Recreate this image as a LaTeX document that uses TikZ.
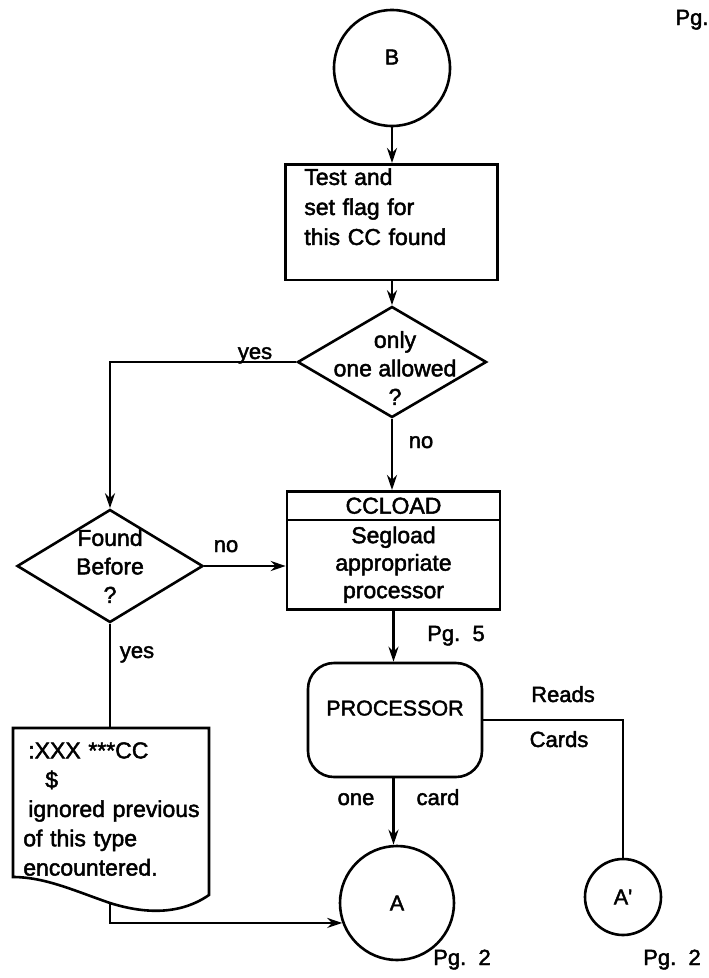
\documentclass[tikz,border=0pt]{standalone}
\usepackage{fontspec}
\setmainfont{Liberation Sans}[FakeBold=2]
\usetikzlibrary{positioning,arrows.meta,shapes.geometric,shapes.multipart}

\begin{document}
\begin{tikzpicture}[x=1pt, y=-1pt, line width=2.6pt,
  every node/.style={font=\fontsize{23}{30}\selectfont},
  term/.style={draw, circle, inner sep=0, font=\fontsize{21.5}{25}\selectfont},
  box/.style={draw, minimum width=212pt, minimum height=115pt, inner sep=4pt},
  decide/.style={draw, diamond, inner sep=0},
  ask/.style={align=center, inner sep=0, font=\fontsize{23}{28.5}\selectfont},
  lab/.style={anchor=base, inner sep=0, font=\fontsize{22}{26}\selectfont},
  arr/.style={-{Stealth[length=15pt, width=10pt]}}]
\useasboundingbox (0,0) rectangle (709,978);

\node[term, minimum size=116pt] (b) at (392,68) {B\rule[-22pt]{0pt}{0pt}};
\node[box, anchor=north west, text width=174pt, inner xsep=19pt, align=left] (test) at (284,163)
  {Test and\\set flag for\\this CC found\rule[-31pt]{0pt}{0pt}};
\node[decide, minimum width=189pt, minimum height=111pt] (once) at (392,362) {};
\node[ask] (once-t) at (395,368) {only\\one allowed\\?};
\node[decide, minimum width=186pt, minimum height=113pt] (found) at (110,566) {};
\node[ask] (found-t) at (110,566) {Found\\Before\\?};
\node[draw, rectangle split, rectangle split parts=2, text width=200pt, inner xsep=6.5pt,
      inner ysep=5pt, align=center, anchor=north, font=\fontsize{23}{27.5}\selectfont]
  (ccload) at (393.5,490) {CCLOAD\nodepart{two}Segload\\appropriate\\processor};
\node[draw, rounded corners=26pt, minimum width=174pt, minimum height=114pt,
      font=\fontsize{21.5}{25}\selectfont] (processor) at (395,720) {PROCESSOR\rule[-24pt]{0pt}{0pt}};
\node[term, minimum size=114pt] (a) at (397,903) {A};
\node[term, minimum size=76pt] (a2) at (623,897) {A\textquotesingle};

\draw (13,728) -- (209,728) -- (209,895) .. controls (180,915) and (145,914) .. (110,903)
  .. controls (75,891) and (45,877) .. (13,877) -- cycle;
\node[anchor=north west, text width=178pt, inner xsep=9pt, inner ysep=13pt, align=left,
      font=\fontsize{23}{29.3}\selectfont] (doc) at (13,728)
  {\hspace*{5pt}:XXX ***CC\\\hspace*{22pt}\$\\\hspace*{5pt}ignored previous\\of this type\\encountered.};
\coordinate (doc-b) at (110,903);

\draw[arr] (b.south) -- (b.south |- test.north);
\draw[arr] (once.north |- test.south) -- (once.north);
\draw[arr] (once.west) -| (found.north);
\draw[arr] (once.south) -- (once.south |- ccload.north);
\draw[arr] (found.east) -- (found.east -| ccload.west);
\draw[arr] (ccload.south) -- (ccload.south |- processor.north);
\draw[arr] (ccload.south |- processor.south) -- (ccload.south |- a.north);
\draw (processor.east) -| (a2.north);
\draw (found.south) -- (found.south |- doc.north);
\draw[arr] (doc-b) |- (a.200);

\node[lab] (yes-1) at (255,359) {yes};
\node[lab] (no-1) at (421,448) {no};
\node[lab] (no-2) at (226,552) {no};
\node[lab] (yes-2) at (137,658) {yes};
\node[lab] (pg-5) at (456,641) {Pg.~~5};
\node[lab] (reads) at (563,702) {Reads};
\node[lab] (cards) at (559,747) {Cards};
\node[lab] (one) at (356,805) {one};
\node[lab] (card) at (438,805) {card};
\node[lab] (pg-2a) at (462,965) {Pg.~~2};
\node[lab] (pg-2b) at (672,965) {Pg.~~2};
\node[lab] (pg) at (692,25) {Pg.};
\end{tikzpicture}
\end{document}
